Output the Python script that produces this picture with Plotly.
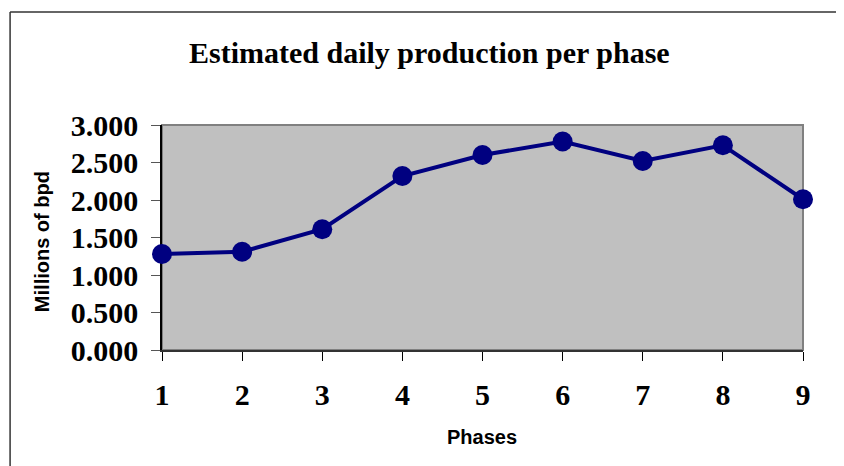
import plotly.graph_objects as go

phases = [1, 2, 3, 4, 5, 6, 7, 8, 9]
production = [1.28, 1.31, 1.61, 2.32, 2.60, 2.78, 2.52, 2.73, 2.01]
y_ticks = [0.0, 0.5, 1.0, 1.5, 2.0, 2.5, 3.0]

title_text = "Estimated daily production per phase"
x_title = "Phases"
y_title = "Millions of bpd"

serif = "Liberation Serif, Times New Roman, serif"
sans = "Liberation Sans, Arial, sans-serif"

fig = go.Figure()
fig.add_trace(go.Scatter(
    x=phases, y=production, mode="lines+markers",
    line=dict(color="#000080", width=4),
    marker=dict(color="#000080", size=20),
    cliponaxis=False, showlegend=False,
))

fig.update_layout(
    width=836, height=458,
    margin=dict(l=154, r=41, t=117, b=116),
    paper_bgcolor="white", plot_bgcolor="#C0C0C0",
    xaxis=dict(range=[1, 9], tickvals=phases, showgrid=False, zeroline=False,
               showline=True, linecolor="#333333", linewidth=1.5,
               ticks="outside", ticklen=9, tickcolor="black", tickwidth=1,
               tickfont=dict(family=serif, size=30, color="black", weight="bold"),
               ticklabelstandoff=8, layer="below traces"),
    yaxis=dict(range=[0, 3], tickvals=y_ticks, tickformat=".3f", showgrid=False, zeroline=False,
               showline=True, linecolor="black", linewidth=1.5,
               ticks="outside", ticklen=9, tickcolor="#555555", tickwidth=1,
               tickfont=dict(family=serif, size=30, color="black", weight="bold"),
               ticklabelstandoff=7, layer="below traces"),
    shapes=[
        dict(type="rect", xref="paper", yref="paper", x0=0, x1=1, y0=0, y1=1,
             line=dict(color="#808080", width=2), layer="below"),
        dict(type="line", xref="paper", yref="paper", x0=-0.237, x1=1.2, y0=1.502, y1=1.502,
             line=dict(color="#333333", width=1.5)),
        dict(type="line", xref="paper", yref="paper", x0=-0.237, x1=-0.237, y0=1.502, y1=-0.7,
             line=dict(color="#333333", width=1.5)),
    ],
    annotations=[
        dict(text=title_text, xref="paper", yref="paper", x=0.418, y=1.324,
             xanchor="center", yanchor="middle", showarrow=False,
             font=dict(family=serif, size=30, color="black", weight="bold")),
        dict(text=x_title, xref="paper", yref="paper", x=0.499, y=-0.387,
             xanchor="center", yanchor="middle", showarrow=False,
             font=dict(family=sans, size=20, color="black", weight="bold")),
        dict(text=y_title, xref="paper", yref="paper", x=-0.187, y=0.48,
             xanchor="center", yanchor="middle", showarrow=False, textangle=-90,
             font=dict(family=sans, size=20, color="black", weight="bold")),
    ],
)

fig.write_html("out.html", config={"displayModeBar": False})
